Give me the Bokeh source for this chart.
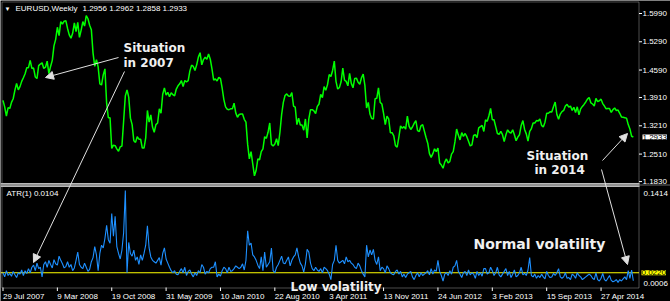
from bokeh.plotting import figure
from bokeh.models import (Range1d, Label, Arrow, NormalHead, Span, BoxAnnotation)
from bokeh.core.properties import value
from bokeh.embed import file_html
from bokeh.resources import INLINE

# ---------------- data ----------------
symbol = "EURUSD,Weekly"
last_bar = [1.2956, 1.2962, 1.2858, 1.2933]   # open high low close of current bar

close = [
    1.3840, 1.3680, 1.3450, 1.3660, 1.3640, 1.3790, 1.3880, 1.4090, 1.4260, 1.4100,
    1.4180, 1.4310, 1.4400, 1.4500, 1.4650, 1.4650, 1.4830, 1.4630, 1.4640, 1.4420,
    1.4380, 1.4700, 1.4740, 1.4770, 1.4630, 1.4660, 1.4810, 1.4500, 1.4680, 1.4830,
    1.5190, 1.5350, 1.5650, 1.5440, 1.5790, 1.5730, 1.5800, 1.5810, 1.5620, 1.5460,
    1.5380, 1.5500, 1.5760, 1.5540, 1.5770, 1.5400, 1.5580, 1.5790, 1.5680, 1.5940,
    1.5860, 1.5700, 1.5590, 1.5010, 1.4680, 1.4850, 1.4670, 1.4250, 1.4220, 1.4470,
    1.4620, 1.3770, 1.3410, 1.3410, 1.2650, 1.2730, 1.2720, 1.2640, 1.2580, 1.2690,
    1.2710, 1.3330, 1.3950, 1.4100, 1.3920, 1.3400, 1.3240, 1.2840, 1.2800, 1.2940,
    1.2880, 1.2880, 1.2660, 1.2660, 1.2910, 1.3590, 1.3300, 1.3480, 1.3180, 1.3050,
    1.3240, 1.3280, 1.3630, 1.3520, 1.3990, 1.4150, 1.3970, 1.4040, 1.3930, 1.4030,
    1.3980, 1.3950, 1.4120, 1.4200, 1.4250, 1.4330, 1.4180, 1.4330, 1.4300, 1.4330,
    1.4570, 1.4710, 1.4680, 1.4580, 1.4720, 1.4910, 1.5020, 1.4720, 1.4850, 1.4910,
    1.4860, 1.4990, 1.4860, 1.4620, 1.4340, 1.4370, 1.4320, 1.4410, 1.4380, 1.4140,
    1.3860, 1.3680, 1.3620, 1.3610, 1.3630, 1.3630, 1.3770, 1.3530, 1.3420, 1.3490,
    1.3500, 1.3500, 1.3370, 1.3300, 1.2750, 1.2390, 1.2570, 1.2270, 1.1970, 1.2110,
    1.2390, 1.2370, 1.2570, 1.2640, 1.2940, 1.2900, 1.3050, 1.3280, 1.2750, 1.2710,
    1.2760, 1.2890, 1.2720, 1.3050, 1.3490, 1.3790, 1.3960, 1.4000, 1.3950, 1.3940,
    1.4030, 1.3700, 1.3670, 1.3240, 1.3400, 1.3230, 1.3230, 1.3100, 1.3380, 1.2910,
    1.3380, 1.3610, 1.3610, 1.3580, 1.3510, 1.3690, 1.3750, 1.3990, 1.3910, 1.4180,
    1.4090, 1.4230, 1.4480, 1.4430, 1.4580, 1.4810, 1.4310, 1.4120, 1.4160, 1.4300,
    1.4640, 1.4340, 1.4310, 1.4200, 1.4510, 1.4260, 1.4150, 1.4380, 1.4390, 1.4290,
    1.4240, 1.4400, 1.4490, 1.4210, 1.3650, 1.3790, 1.3500, 1.3390, 1.3380, 1.3880,
    1.3890, 1.4150, 1.3790, 1.3750, 1.3520, 1.3240, 1.3450, 1.3380, 1.3040, 1.3040,
    1.2960, 1.2720, 1.2680, 1.2930, 1.3210, 1.3150, 1.3190, 1.3130, 1.3450, 1.3200,
    1.3120, 1.3180, 1.3270, 1.3340, 1.3090, 1.3070, 1.3210, 1.3240, 1.3080, 1.2920,
    1.2780, 1.2520, 1.2430, 1.2520, 1.2640, 1.2570, 1.2660, 1.2290, 1.2240, 1.2160,
    1.2310, 1.2390, 1.2290, 1.2330, 1.2510, 1.2570, 1.2810, 1.3130, 1.2980, 1.2860,
    1.3040, 1.2950, 1.3020, 1.2940, 1.2830, 1.2710, 1.2740, 1.2970, 1.2990, 1.2920,
    1.3160, 1.3190, 1.3220, 1.3070, 1.3360, 1.3320, 1.3460, 1.3640, 1.3360, 1.3360,
    1.3190, 1.3020, 1.3000, 1.3070, 1.2990, 1.2820, 1.2990, 1.3110, 1.3050, 1.3030,
    1.3110, 1.2990, 1.2840, 1.2930, 1.2990, 1.3220, 1.3340, 1.3120, 1.3010, 1.2830,
    1.3070, 1.3140, 1.3280, 1.3280, 1.3340, 1.3330, 1.3380, 1.3220, 1.3180, 1.3300,
    1.3520, 1.3520, 1.3560, 1.3550, 1.3680, 1.3800, 1.3490, 1.3370, 1.3500, 1.3560,
    1.3590, 1.3700, 1.3740, 1.3670, 1.3700, 1.3590, 1.3670, 1.3540, 1.3680, 1.3480,
    1.3630, 1.3690, 1.3740, 1.3800, 1.3870, 1.3910, 1.3780, 1.3750, 1.3700, 1.3890,
    1.3810, 1.3830, 1.3870, 1.3760, 1.3700, 1.3630, 1.3640, 1.3640, 1.3540, 1.3610,
    1.3650, 1.3590, 1.3600, 1.3520, 1.3430, 1.3420, 1.3410, 1.3400, 1.3240, 1.3130,
    1.2950, 1.2933,
]

atr = [
    0.022, 0.016, 0.025, 0.018, 0.021, 0.017, 0.024, 0.019, 0.015, 0.022,
    0.020, 0.026, 0.018, 0.025, 0.021, 0.028, 0.022, 0.030, 0.033, 0.025,
    0.036, 0.028, 0.030, 0.016, 0.034, 0.038, 0.030, 0.040, 0.034, 0.029,
    0.041, 0.035, 0.033, 0.046, 0.040, 0.035, 0.029, 0.031, 0.038, 0.030,
    0.034, 0.025, 0.029, 0.040, 0.052, 0.034, 0.030, 0.028, 0.036, 0.030,
    0.024, 0.027, 0.038, 0.044, 0.060, 0.048, 0.025, 0.050, 0.062, 0.058,
    0.072, 0.091, 0.070, 0.065, 0.108, 0.075, 0.104, 0.060, 0.050, 0.042,
    0.055, 0.080, 0.1414, 0.022, 0.066, 0.050, 0.046, 0.055, 0.040, 0.045,
    0.034, 0.048, 0.040, 0.050, 0.062, 0.090, 0.058, 0.045, 0.040, 0.038,
    0.036, 0.040, 0.044, 0.033, 0.050, 0.058, 0.042, 0.036, 0.030, 0.025,
    0.022, 0.025, 0.020, 0.019, 0.024, 0.028, 0.022, 0.030, 0.018, 0.024,
    0.026, 0.020, 0.016, 0.022, 0.018, 0.025, 0.022, 0.034, 0.030, 0.020,
    0.024, 0.022, 0.028, 0.030, 0.030, 0.038, 0.016, 0.020, 0.017, 0.025,
    0.030, 0.028, 0.022, 0.030, 0.024, 0.025, 0.028, 0.032, 0.030, 0.028,
    0.030, 0.035, 0.026, 0.040, 0.083, 0.062, 0.065, 0.048, 0.045, 0.040,
    0.033, 0.028, 0.045, 0.025, 0.052, 0.030, 0.034, 0.038, 0.058, 0.025,
    0.022, 0.030, 0.034, 0.040, 0.046, 0.036, 0.035, 0.040, 0.045, 0.032,
    0.040, 0.045, 0.048, 0.058, 0.045, 0.036, 0.032, 0.023, 0.035, 0.056,
    0.052, 0.036, 0.028, 0.025, 0.030, 0.026, 0.024, 0.028, 0.022, 0.030,
    0.028, 0.025, 0.020, 0.012, 0.034, 0.040, 0.062, 0.040, 0.036, 0.038,
    0.040, 0.035, 0.045, 0.038, 0.040, 0.036, 0.034, 0.030, 0.028, 0.036,
    0.032, 0.025, 0.020, 0.016, 0.062, 0.045, 0.055, 0.048, 0.056, 0.040,
    0.034, 0.045, 0.025, 0.030, 0.028, 0.022, 0.032, 0.028, 0.022, 0.020,
    0.019, 0.024, 0.026, 0.020, 0.024, 0.016, 0.020, 0.015, 0.020, 0.022,
    0.024, 0.016, 0.012, 0.018, 0.022, 0.016, 0.022, 0.018, 0.020, 0.022,
    0.025, 0.019, 0.028, 0.020, 0.026, 0.024, 0.040, 0.024, 0.018, 0.010,
    0.020, 0.022, 0.018, 0.025, 0.020, 0.030, 0.032, 0.040, 0.024, 0.020,
    0.015, 0.022, 0.024, 0.018, 0.026, 0.019, 0.022, 0.020, 0.014, 0.024,
    0.018, 0.022, 0.017, 0.028, 0.028, 0.020, 0.022, 0.030, 0.025, 0.018,
    0.022, 0.030, 0.019, 0.016, 0.020, 0.024, 0.028, 0.018, 0.024, 0.015,
    0.020, 0.026, 0.016, 0.018, 0.022, 0.030, 0.019, 0.021, 0.018, 0.026,
    0.044, 0.018, 0.016, 0.020, 0.014, 0.018, 0.015, 0.020, 0.016, 0.013,
    0.024, 0.018, 0.015, 0.016, 0.021, 0.018, 0.022, 0.028, 0.016, 0.014,
    0.016, 0.022, 0.014, 0.015, 0.012, 0.020, 0.018, 0.014, 0.022, 0.018,
    0.016, 0.012, 0.014, 0.016, 0.018, 0.020, 0.018, 0.014, 0.012, 0.022,
    0.012, 0.010, 0.014, 0.021, 0.012, 0.010, 0.014, 0.018, 0.011, 0.009,
    0.010, 0.012, 0.008, 0.012, 0.010, 0.013, 0.016, 0.012, 0.025, 0.014,
    0.026, 0.0104,
]

tick_weeks = [0, 32, 64, 96, 128, 160, 192, 224, 256, 288, 320, 352]
tick_labels = ["29 Jul 2007", "9 Mar 2008", "19 Oct 2008", "31 May 2009",
               "10 Jan 2010", "22 Aug 2010", "3 Apr 2011", "13 Nov 2011",
               "24 Jun 2012", "3 Feb 2013", "15 Sep 2013", "27 Apr 2014"]
price_ticks = [1.1830, 1.2510, 1.3210, 1.3910, 1.4590, 1.5290, 1.5990]
atr_max, atr_min = 0.1414, 0.0006
atr_level = 0.0220

weeks = list(range(len(close)))

# ---------------- geometry (canvas pixels) ----------------
W, H = 670, 301
FR = 639                 # right border of the chart panes (price scale beyond)
PANE_L, PANE_T, PANE_B = 2, 1.5, 287   # white border of the chart panes
PX_PER_WEEK = 1.699
W0_X = 2.5                                          # x of first weekly bar
P_REF_Y, P_REF, P_SCALE = 13, 1.5990, 404.0       # price px mapping
A_TOP_Y, A_BOT_Y = 190, 287                        # ATR max / min drawn here
A_SCALE = (A_BOT_Y - A_TOP_Y) / (atr_max - atr_min)

x_start = -W0_X / PX_PER_WEEK
x_end = x_start + W / PX_PER_WEEK

def week_at(X):
    return x_start + X / PX_PER_WEEK

def price_at(Y):
    return P_REF - (Y - P_REF_Y) / P_SCALE

def sy(Y):        # canvas y -> screen units (from frame bottom)
    return H - Y

p = figure(width=W, height=H, output_backend="svg", toolbar_location=None,
           x_range=Range1d(x_start, x_end), y_range=Range1d(price_at(H), price_at(0)),
           x_axis_location=None, y_axis_location=None,
           min_border=0,
           background_fill_color="black", border_fill_color="black",
           outline_line_color=None)
p.extra_y_ranges = {"atr": Range1d(atr_min - (H - A_BOT_Y) / A_SCALE,
                                   atr_min + A_BOT_Y / A_SCALE)}
p.grid.visible = False

FONT = "Liberation Sans"
small = dict(text_font=value(FONT), text_font_size="8px", text_color="white")

# pane borders
p.add_layout(BoxAnnotation(left=PANE_L - 0.5, right=FR - 0.5, top=sy(PANE_T), bottom=sy(PANE_B + 0.5),
                           left_units="screen", right_units="screen",
                           top_units="screen", bottom_units="screen",
                           fill_color=None, line_color="white", line_width=1))
# separator between the two panes
p.add_layout(BoxAnnotation(left=0, right=FR, top=sy(182.5), bottom=sy(186.5),
                           left_units="screen", right_units="screen",
                           top_units="screen", bottom_units="screen",
                           fill_color="#b8b8b8", fill_alpha=1, line_color=None))
p.add_layout(Span(location=sy(184.5), location_units="screen", dimension="width",
                  line_color="#6a6a6a", line_width=1))

# price scale (right)
p.segment(x0=[week_at(FR - 0.5)] * len(price_ticks), x1=[week_at(FR + 2.5)] * len(price_ticks),
          y0=price_ticks, y1=price_ticks, line_color="white", line_width=1)
p.text(x=[week_at(FR + 3)] * len(price_ticks), y=price_ticks,
       text=[f"{t:.4f}" for t in price_ticks], text_align="left",
       text_baseline="middle", **small)

# time scale: ticks and dates (dates start at their tick)
p.segment(x0=tick_weeks, x1=tick_weeks, y0=price_at(PANE_B), y1=price_at(PANE_B + 3.5),
          line_color="white", line_width=1)
p.text(x=tick_weeks, y=[price_at(291.5)] * len(tick_weeks), text=tick_labels,
       text_align="left", text_baseline="top", **small)

# series
p.line(weeks, close, line_color="#00ff00", line_width=1.5)
p.segment(x0=[x_start], x1=[week_at(FR - 0.5)], y0=[atr_level], y1=[atr_level],
          y_range_name="atr", line_color="#ffff00", line_width=1.2)
p.line(weeks, atr, y_range_name="atr", line_color="#1e90ff", line_width=1.1)

# header
hdr = dict(x_units="screen", y_units="screen", text_color="white",
           text_font=FONT, text_font_size="8px", text_baseline="middle")
p.add_layout(Label(x=4, y=sy(8), text="\u25bc", text_font_size="6px",
                   text_color="white", x_units="screen", y_units="screen",
                   text_baseline="middle"))
p.add_layout(Label(x=15, y=sy(8), text=symbol, **hdr))
p.add_layout(Label(x=82, y=sy(8), text=" ".join(f"{v:.4f}" for v in last_bar), **hdr))

# current value boxes and ATR scale labels
box = dict(x_units="screen", text_color="black", text_font=FONT,
           text_font_size="8px", text_baseline="middle")
p.add_layout(Label(x=FR + 3, y=close[-1], text=f"{close[-1]:.4f}",
                   background_fill_color="white", **box))
p.add_layout(Label(x=FR + 2, y=atr_level, y_range_name="atr", text=f"{atr_level:.4f}",
                   background_fill_color="#ffff00", **box))
scale = dict(x_units="screen", text_color="white", text_font=FONT,
             text_font_size="8px", text_baseline="middle", y_range_name="atr")
p.add_layout(Label(x=FR + 4, y=atr_max, y_offset=-3, text=f"{atr_max:.4f}", **scale))
p.add_layout(Label(x=FR + 4, y=atr_min, y_offset=4, text=f"{atr_min:.4f}", **scale))
p.add_layout(Label(x=6, y=atr_max, y_offset=-3, text=f"ATR(1) {atr[-1]:.4f}", **scale))

# annotations
note = dict(x_units="screen", y_units="screen", text_color="#f0f0f0",
            text_font="DejaVu Sans", text_font_style="bold", text_font_size="12px",
            text_baseline="alphabetic")
p.add_layout(Label(x=123, y=sy(47), text="Situation", **note))
p.add_layout(Label(x=123, y=sy(62), text="in 2007", **note))
p.add_layout(Label(x=526, y=sy(155), text="Situation", **note))
p.add_layout(Label(x=534, y=sy(169), text="in 2014", **note))
p.add_layout(Label(x=290, y=sy(286), text="Low volatility", **note))
note_big = dict(note, text_font_size="14px")
p.add_layout(Label(x=473, y=sy(243), text="Normal volatility", **note_big))

arrows = [((118, 57), (45, 77)), ((124, 71), (33, 262)),
          ((602, 160), (627, 133)), ((601, 169), (627, 264))]
for (x0, y0), (x1, y1) in arrows:
    p.add_layout(Arrow(x_start=x0, y_start=sy(y0), x_end=x1, y_end=sy(y1),
                       start_units="screen", end_units="screen",
                       line_color="#e0e0e0", line_width=1,
                       end=NormalHead(size=8, fill_color="#e0e0e0", line_color="#e0e0e0")))

open("out.html", "w").write(file_html(p, INLINE))
